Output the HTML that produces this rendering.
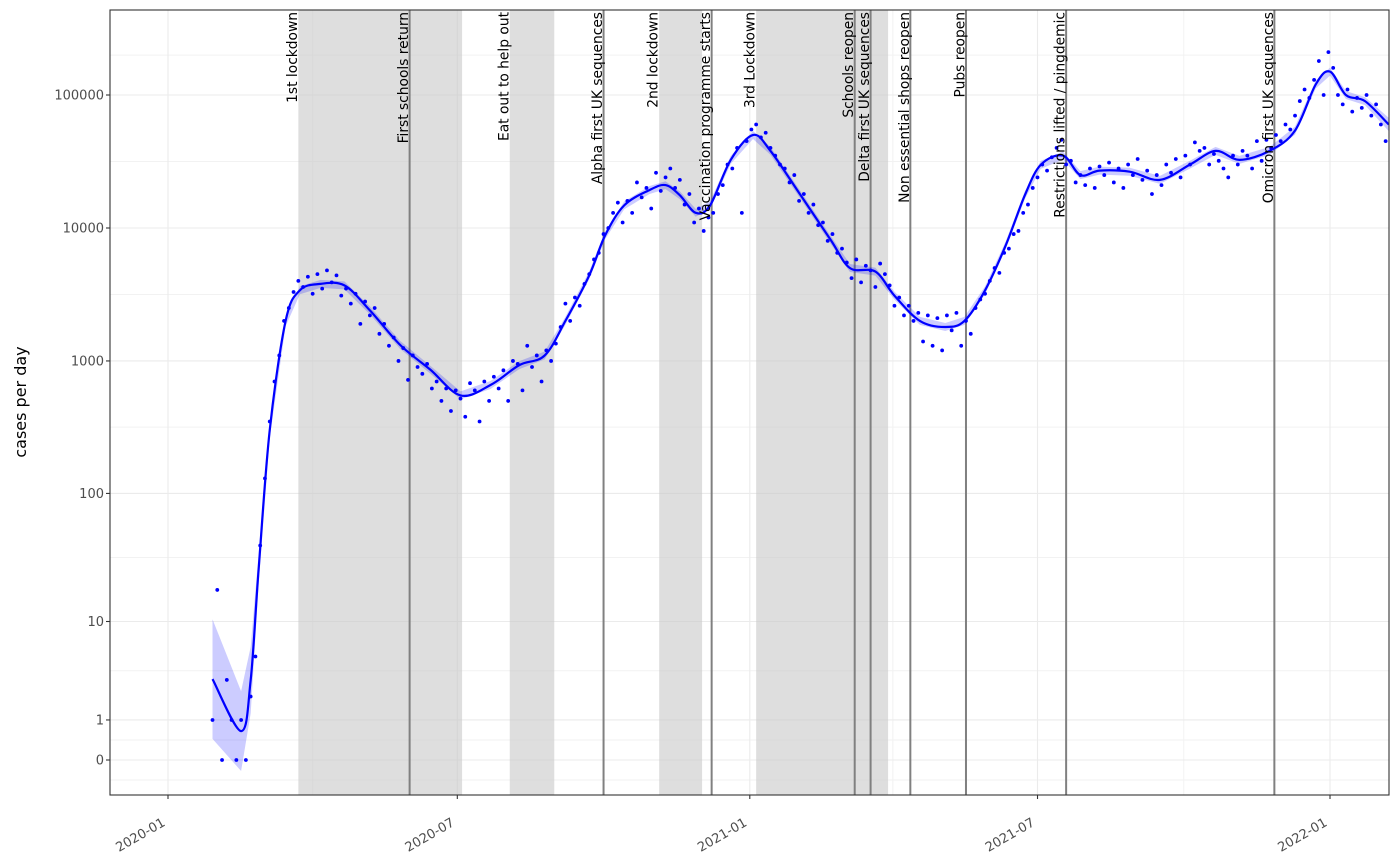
<!DOCTYPE html>
<html><head><meta charset="utf-8"><style>
body{margin:0;background:#fff}
svg{display:block;font-family:"DejaVu Sans","Liberation Sans",sans-serif}
</style></head><body>
<svg id="chart" width="1400" height="865"></svg>
<script>
const yTicks=[0,1,10,100,1000,10000,100000];
const xTickLabels=["2020-01","2020-07","2021-01","2021-07","2022-01"];
const xMinorDates=["2019-10-01","2020-04-01","2020-10-01","2021-04-01","2021-10-01"];
const shadeStarts=["2020-03-23","2020-08-03","2020-11-05","2021-01-05"];
const shadeEnds=["2020-07-04","2020-08-31","2020-12-02","2021-03-29"];
const eventDates=["2020-03-23","2020-06-01","2020-08-03","2020-10-01","2020-11-05","2020-12-08","2021-01-05","2021-03-08","2021-03-18","2021-04-12","2021-05-17","2021-07-19","2021-11-27"];
const eventLabels=["1st lockdown","First schools return","Eat out to help out","Alpha first UK sequences","2nd lockdown","Vaccination programme starts","3rd Lockdown","Schools reopen","Delta first UK sequences","Non essential shops reopen","Pubs reopen","Restrictions lifted / pingdemic","Omicron first UK sequences"];
const eventHasLine=[false,true,false,true,false,true,false,true,true,true,true,true,true];
const smoothDays=[28,46,52,57,64,74,83,96,111,127,146,165,184,203,221,237,250,265,275,287,303,313,322,332,341,354,368,379,398,417,429,445,457,473,489,501,514,527,539,549,563,574,586,605,624,643,659,674,693,709,722,731,741,753,768];
const smoothVals=[3.06,0.65,3,26,300,2000,3400,3800,3700,2400,1320,860,550,660,930,1100,2000,4400,8800,14800,19300,21000,17600,13000,14800,32500,50000,38000,17600,8100,5000,4700,3100,2000,1800,2000,3400,7400,17600,29800,35000,25000,27000,26500,23000,30000,38000,32500,38000,54000,120000,150000,100000,90000,60000];
const smoothSe=[0.45,0.3,0.25,0.12,0.06,0.04,0.03,0.03,0.03,0.03,0.03,0.03,0.03,0.03,0.03,0.03,0.03,0.03,0.03,0.03,0.03,0.03,0.03,0.03,0.03,0.03,0.03,0.03,0.03,0.03,0.03,0.03,0.03,0.03,0.03,0.03,0.03,0.03,0.03,0.03,0.03,0.03,0.03,0.03,0.03,0.03,0.03,0.03,0.03,0.03,0.03,0.03,0.03,0.03,0.05];
const dotStartDay=28;
const dotStep=3;
const dotVals=[1,18,0,3,1,0,1,0,2,5,40,130,350,700,1100,2000,2500,3300,4000,3600,4300,3200,4500,3500,4800,3900,4400,3100,3500,2700,3200,1900,2800,2200,2500,1600,1900,1300,1500,1000,1250,720,1100,900,800,950,620,700,500,620,420,600,520,380,680,600,350,700,500,760,620,850,500,1000,950,600,1300,900,1100,700,1200,1000,1350,1800,2700,2000,3000,2600,3800,4500,5800,6500,9000,10000,13000,15500,11000,16000,13000,22000,17000,20000,14000,26000,19000,24000,28000,20000,23000,15000,18000,11000,14000,9500,12000,13000,18000,21000,30000,28000,40000,13000,45000,55000,60000,48000,52000,40000,35000,30000,28000,22000,25000,16000,18000,13000,15000,10500,11000,8000,9000,6500,7000,5500,4200,5800,3900,5200,4800,3600,5400,4500,3700,2600,3000,2200,2600,2000,2300,1400,2200,1300,2100,1200,2200,1700,2300,1300,2000,1600,2500,2900,3200,4000,5000,4600,6500,7000,9000,9500,13000,15000,20000,24000,30000,27000,34000,40000,46000,30000,32000,22000,25000,21000,28000,20000,29000,25000,31000,22000,28000,20000,30000,25000,33000,23000,27000,18000,25000,21000,30000,26000,33000,24000,35000,30000,44000,38000,40000,30000,36000,32000,28000,24000,35000,30000,38000,35000,28000,45000,32000,46000,40000,50000,45000,60000,55000,70000,90000,110000,95000,130000,180000,100000,210000,160000,100000,85000,110000,75000,95000,80000,100000,70000,85000,60000,45000];

const NS="http://www.w3.org/2000/svg";
const svg=document.getElementById('chart');
const L=110,R=1389,T=10,B=795;
const t0=Date.UTC(2020,0,1);
function dayOf(s){const p=s.split('-');return (Date.UTC(+p[0],+p[1]-1,+(p[2]||1))-t0)/86400000;}
function xs(d){return 168+d*(1330-168)/731;}
function yl(l){return 760-133*l;}
function ys(v){return yl(Math.log10(v+1));}
function mk(tag,attrs,parent){const e=document.createElementNS(NS,tag);for(const k in attrs)e.setAttribute(k,attrs[k]);(parent||svg).appendChild(e);return e;}
const clipDef=mk('defs',{});const cp=mk('clipPath',{id:'pc'},clipDef);mk('rect',{x:L,y:T,width:R-L,height:B-T},cp);
const bg=mk('g',{'clip-path':'url(#pc)'});


for(let i=0;i<yTicks.length-1;i++){
  const a=Math.log10(yTicks[i]+1),b=Math.log10(yTicks[i+1]+1);
  const g=mk('line',{x1:L,x2:R,y1:yl((a+b)/2),y2:yl((a+b)/2),stroke:'#f2f2f2','stroke-width':1},bg);
  
  
}
[-0.15,5.3].forEach(l=>{const g=mk('line',{x1:L,x2:R,y1:yl(l),y2:yl(l),stroke:'#f2f2f2','stroke-width':1},bg);});
xMinorDates.forEach(d=>{const x=xs(dayOf(d));const g=mk('line',{x1:x,x2:x,y1:T,y2:B,stroke:'#f2f2f2','stroke-width':1},bg);});
yTicks.forEach(v=>{const g=mk('line',{x1:L,x2:R,y1:ys(v),y2:ys(v),stroke:'#ebebeb','stroke-width':1.1},bg);});
xTickLabels.forEach(d=>{const x=xs(dayOf(d));const g=mk('line',{x1:x,x2:x,y1:T,y2:B,stroke:'#ebebeb','stroke-width':1.1},bg);});
shadeStarts.forEach((s,i)=>{const x1=xs(dayOf(s)),x2=xs(dayOf(shadeEnds[i]));const r=mk('rect',{x:x1,y:T,width:x2-x1,height:B-T,fill:'#c8c8c8','fill-opacity':0.6},bg);});
eventDates.forEach((d,i)=>{if(!eventHasLine[i])return;const x=xs(dayOf(d));const l=mk('line',{x1:x,x2:x,y1:T,y2:B,stroke:'#808080','stroke-width':2},bg);});
let up='',dn='';
smoothDays.forEach((d,i)=>{const l=Math.log10(smoothVals[i]+1);up+=(i?'L':'M')+xs(d).toFixed(1)+','+yl(l+smoothSe[i]).toFixed(1);});
for(let i=smoothDays.length-1;i>=0;i--){const l=Math.log10(smoothVals[i]+1);dn+='L'+xs(smoothDays[i]).toFixed(1)+','+yl(l-smoothSe[i]).toFixed(1);}
const rib=mk('path',{d:up+dn+'Z',fill:'#0000ff','fill-opacity':0.2,stroke:'none'},bg);


dotVals.forEach((v,i)=>{const c=mk('circle',{cx:xs(dotStartDay+i*dotStep),cy:ys(v),r:1.9,fill:'#0000ff'},bg);});
const pts=smoothDays.map((d,i)=>[xs(d),ys(smoothVals[i])]);
let p='M'+pts[0][0]+','+pts[0][1];
for(let i=0;i<pts.length-1;i++){const p0=pts[Math.max(0,i-1)],p1=pts[i],p2=pts[i+1],p3=pts[Math.min(pts.length-1,i+2)];
 p+='C'+(p1[0]+(p2[0]-p0[0])/6).toFixed(1)+','+(p1[1]+(p2[1]-p0[1])/6).toFixed(1)+' '+(p2[0]-(p3[0]-p1[0])/6).toFixed(1)+','+(p2[1]-(p3[1]-p1[1])/6).toFixed(1)+' '+p2[0].toFixed(1)+','+p2[1].toFixed(1);}
const sl=mk('path',{d:p,fill:'none',stroke:'#0000ff','stroke-width':2.2},bg);


eventDates.forEach((d,i)=>{const x=xs(dayOf(d))-1.5;const t=mk('text',{x:0,y:0,transform:`translate(${x.toFixed(1)},12) rotate(-90)`,'text-anchor':'end','font-size':13.8,fill:'#000'},bg);t.textContent=eventLabels[i];});
const br=mk('rect',{x:L,y:T,width:R-L,height:B-T,fill:'none',stroke:'#333','stroke-width':1.1});


yTicks.forEach(v=>{const y=ys(v);const tk=mk('line',{x1:L-4,x2:L,y1:y,y2:y,stroke:'#333','stroke-width':1.1});
 const t=mk('text',{x:L-6,y:y+4.5,'text-anchor':'end','font-size':13,fill:'#4d4d4d'});t.textContent=String(v);});
xTickLabels.forEach(d=>{const x=xs(dayOf(d));const tk=mk('line',{x1:x,x2:x,y1:B,y2:B+4,stroke:'#333','stroke-width':1.1});
 const t=mk('text',{x:0,y:0,transform:`translate(${x-2},${B+30}) rotate(-30)`,'text-anchor':'end','font-size':13,fill:'#4d4d4d'});t.textContent=d;});
const yt=mk('text',{x:0,y:0,transform:'translate(26,402) rotate(-90)','text-anchor':'middle','font-size':16,fill:'#000'});
yt.textContent='cases per day';


</script>
</body></html>
